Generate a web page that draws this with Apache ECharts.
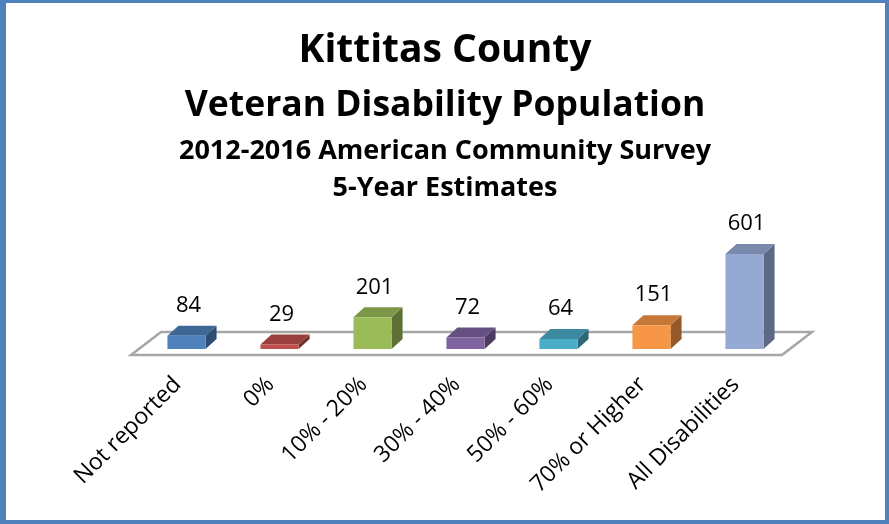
<!DOCTYPE html>
<html>
<head>
<meta charset="utf-8">
<script src="https://cdn.jsdelivr.net/npm/echarts@6/dist/echarts.min.js"></script>
<style>
html,body{margin:0;padding:0;background:#fff;}
#wrap{position:relative;width:889px;height:524px;}
#chart{position:absolute;left:0;top:0;width:889px;height:524px;}
#frame{position:absolute;left:0;top:0;width:889px;height:524px;box-sizing:border-box;
  border-left:6px solid #4F81BD;border-top:3px solid #4F81BD;border-right:4px solid #4F81BD;border-bottom:4px solid #4F81BD;pointer-events:none;}
</style>
</head>
<body>
<div id="wrap"><div id="chart"></div><div id="frame"></div></div>
<script>
const titleLines = ['Kittitas County', 'Veteran Disability Population', '2012-2016 American Community Survey', '5-Year Estimates'];
const categories = ['Not reported', '0%', '10% - 20%', '30% - 40%', '50% - 60%', '70% or Higher', 'All Disabilities'];
const values = [84, 29, 201, 72, 64, 151, 601];
const frontColors = ['#4F81BD', '#C0504D', '#9BBB59', '#8064A2', '#4BACC6', '#F79646', '#95A9D3'];
const topColors   = ['#3E6696', '#9A3F3D', '#7C9747', '#665081', '#3B8A9F', '#C67838', '#7889AC'];
const sideColors  = ['#2F4E73', '#73302E', '#5D7035', '#4C3C61', '#2C6777', '#94592A', '#5C6884'];

const FONT = '"Open Sans"';
const chart = echarts.init(document.getElementById('chart'));

const titleY = [51, 106, 151, 188];
const titleSize = [39, 35.5, 27, 27];

function renderFloor(params, api) {
  const cs = params.coordSys;
  const x0 = cs.x, x1 = cs.x + cs.width, y = cs.y + cs.height;
  const dx = 30, dy = -23;
  return {
    type: 'polygon',
    shape: { points: [[x0, y], [x0 + dx, y + dy], [x1 + dx, y + dy], [x1, y]] },
    style: { fill: '#fff', stroke: '#A6A6A6', lineWidth: 2.5 },
    silent: true
  };
}

function renderBar(params, api) {
  const i = api.value(0), v = api.value(1);
  const base = api.coord([i, 0]);
  const topPt = api.coord([i, v]);
  const band = api.size([1, 0])[0];
  const bw = band * 0.41;
  const sx = 9, sy = -6, dx = 11, dy = -10;
  const cx = base[0] + sx;
  const x0 = cx - bw / 2, x1 = cx + bw / 2;
  const yb = base[1] + sy, yt = topPt[1] + sy;
  const idx = params.dataIndex;
  return {
    type: 'group',
    children: [
      { type: 'polygon', shape: { points: [[x1, yt], [x1 + dx, yt + dy], [x1 + dx, yb + dy], [x1, yb]] },
        style: { fill: sideColors[idx] } },
      { type: 'polygon', shape: { points: [[x0, yt], [x0 + dx, yt + dy], [x1 + dx, yt + dy], [x1, yt]] },
        style: { fill: topColors[idx] } },
      { type: 'rect', shape: { x: x0, y: yt, width: bw, height: yb - yt },
        style: { fill: frontColors[idx] } },
      { type: 'text', x: cx + 2, y: yt + dy - 20,
        style: { text: String(v), fill: '#000', font: '22px ' + FONT, align: 'center', verticalAlign: 'middle' } }
    ]
  };
}

chart.setOption({
  animation: false,
  backgroundColor: '#fff',
  graphic: titleLines.map((t, k) => ({
    type: 'text', x: 445, y: titleY[k],
    style: { text: t, fill: '#000', font: 'bold ' + titleSize[k] + 'px ' + FONT, align: 'center', verticalAlign: 'middle' }
  })),
  grid: { left: 131, right: 107, top: 197, bottom: 169 },
  xAxis: {
    type: 'category', data: categories,
    axisLine: { show: false }, axisTick: { show: false }, splitLine: { show: false },
    axisLabel: { interval: 0, rotate: 45, margin: 26, fontSize: 23, fontFamily: 'Open Sans', color: '#000' }
  },
  yAxis: { type: 'value', min: 0, max: 1000, show: false },
  series: [
    { type: 'custom', renderItem: renderFloor, data: [[0, 0]], z: 1, silent: true },
    { type: 'custom', renderItem: renderBar, data: values.map((v, i) => [i, v]), z: 2 }
  ]
});
</script>
</body>
</html>
